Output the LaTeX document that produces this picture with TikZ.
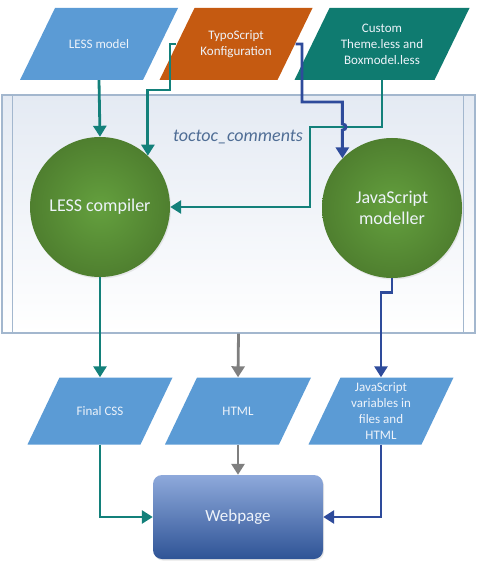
\documentclass[tikz,border=0pt]{standalone}
\usepackage{fontspec}
\setmainfont{Carlito}
\usetikzlibrary{arrows.meta}
\usetikzlibrary{shadows}

\definecolor{lessblue}{HTML}{5B9BD5}
\definecolor{typoorange}{HTML}{C55A11}
\definecolor{customteal}{HTML}{0F7B70}
\definecolor{flowteal}{HTML}{13807A}
\definecolor{flowblue}{HTML}{2E4B9B}
\definecolor{flowgray}{HTML}{7F7F7F}
\definecolor{greenlight}{HTML}{64A03E}
\definecolor{greendark}{HTML}{4F7F2F}
\definecolor{pagetop}{HTML}{8EA9DB}
\definecolor{pagebottom}{HTML}{2F5496}
\definecolor{plugtop}{HTML}{E4EAF3}
\definecolor{plugline}{HTML}{A3B7CE}
\definecolor{plugtext}{HTML}{4F6D95}
\definecolor{lighttext}{HTML}{EEF3FA}

\begin{document}
\begin{tikzpicture}[x=1pt, y=-1pt,
  data/.style 2 args={rectangle, inner sep=0pt, align=center,
    text=lighttext, font=\fontsize{13}{16}\selectfont,
    path picture={\fill[#1] (path picture bounding box.south west)
      -- ([xshift=-#2]path picture bounding box.south east)
      -- (path picture bounding box.north east)
      -- ([xshift=#2]path picture bounding box.north west) -- cycle;}},
  inbox/.style={data={#1}{35pt}, minimum height=72pt},
  outbox/.style={data={lessblue}{32pt}, minimum height=67pt, minimum width=#1},
  engine/.style={circle, minimum size=140pt, inner color=greenlight, outer color=greendark,
    text=lighttext, align=center, font=\fontsize{18}{21}\selectfont,
    drop shadow={opacity=0.15, shadow xshift=1pt, shadow yshift=-1.5pt}},
  plugin/.style={rectangle, draw=plugline, line width=1.1pt, top color=plugtop, bottom color=white,
    minimum width=473pt, minimum height=238pt},
  plugframe/.style={draw=plugline, line width=1.1pt},
  plugname/.style={text=plugtext, font=\fontsize{18}{21}\selectfont\itshape},
  page/.style={rectangle, rounded corners=9pt, minimum width=170pt, minimum height=84pt,
    top color=pagetop, bottom color=pagebottom, text=lighttext, font=\fontsize{17}{20}\selectfont,
    drop shadow={opacity=0.2, shadow xshift=1pt, shadow yshift=-1.5pt}},
  flow/.style={line width=2.8pt, -{Triangle[width=13pt,length=11pt]}},
  tealflow/.style={flow, draw=flowteal},
  blueflow/.style={flow, draw=flowblue},
  grayflow/.style={flow, draw=flowgray}]
\useasboundingbox (0,0) rectangle (501,564);

% plugin frame
\node[plugin] (plug) at (238.5,214) {};
\draw[plugframe] ([xshift=11pt]plug.north west) -- ([xshift=11pt]plug.south west);
\draw[plugframe] ([xshift=-12pt]plug.north east) -- ([xshift=-12pt]plug.south east);
\node[plugname] (plugname) at (238,137) {toctoc\_comments};

% inputs
\node[inbox=lessblue, minimum width=158pt] (lessmodel) at (99,44) {LESS model};
\node[inbox=typoorange, minimum width=153pt] (typo) at (236,44) {TypoScript\\Konfiguration};
\node[inbox=customteal, minimum width=175pt] (custom) at (382,44) {Custom\\Theme.less and\\Boxmodel.less};

% processing
\node[engine] (lesscomp) at (100,207) {LESS compiler};
\node[engine] (jsmod) at (392,208) {JavaScript\\modeller};

% outputs
\node[outbox=145pt] (css) at (100,411) {Final CSS};
\node[outbox=146pt] (html) at (238,411) {HTML};
\node[outbox=145pt] (jsvar) at (381,411) {JavaScript\\variables in\\files and\\HTML};
\node[page] (web) at (238,517) {Webpage};

% connectors
\coordinate (t1) at (170,90);
\coordinate (t2) at (302,102);
\coordinate (c1) at (310,127);
\coordinate (hop) at (jsmod.135 |- c1);
\draw[tealflow] (lessmodel.south) -- (lesscomp.north);
\draw[tealflow] ([xshift=17pt]typo.west) -| (t1) -| (lesscomp.47);
\draw[tealflow] (custom.south) |- (c1) |- (lesscomp.east);
\draw[blueflow] ([xshift=-17pt]typo.east) -| (t2) -| ([yshift=3pt]hop)
  .. controls +(5,0) and +(5,0) .. ([yshift=-3pt]hop) -- (jsmod.135);
\draw[tealflow] (lesscomp.south) -- (css.north);
\draw[grayflow] (plug.south) -- (html.north);
\draw[blueflow] (jsmod.south) -- ++(0,14) -| (jsvar.north);
\draw[tealflow] (css.south) |- (web.west);
\draw[grayflow] (html.south) -- (web.north);
\draw[blueflow] (jsvar.south) |- (web.east);
\end{tikzpicture}
\end{document}
